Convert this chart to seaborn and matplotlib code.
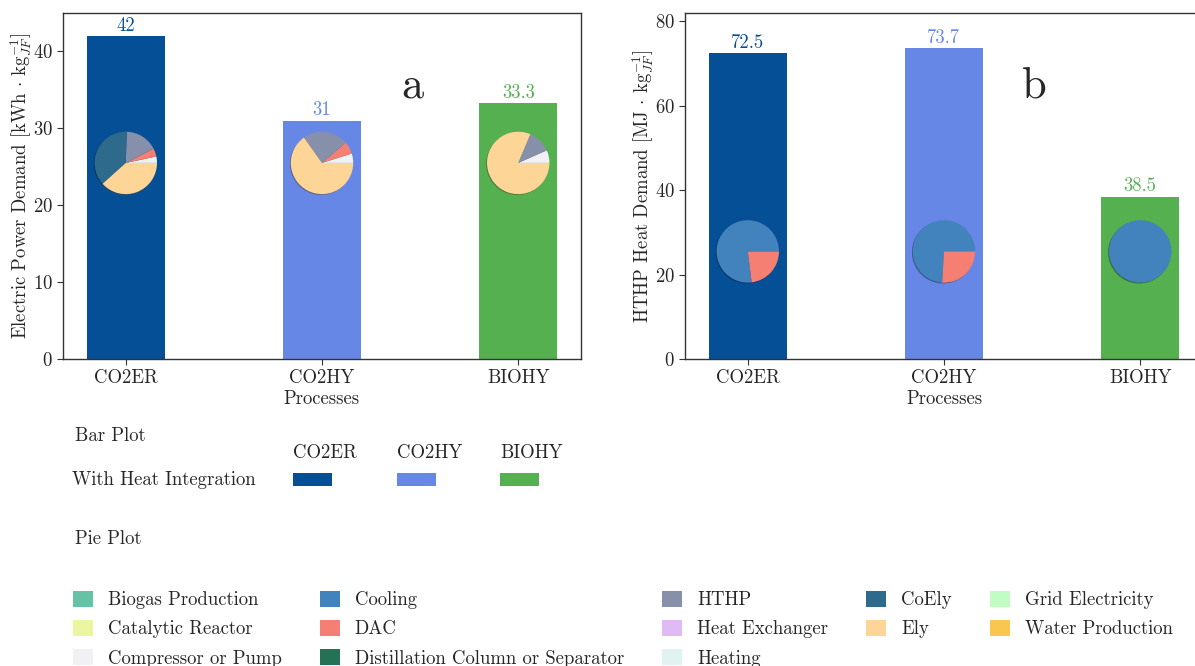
import numpy as np
import pandas as pd
import matplotlib
matplotlib.use("Agg")
import matplotlib.pyplot as plt
from matplotlib.patches import Patch, Rectangle
import seaborn as sns

# ---- data -------------------------------------------------------------
processes = ["CO2ER", "CO2HY", "BIOHY"]
bar_colors = ["#054f96", "#6787e6", "#55b050"]

power_total = [42, 31, 33.3]          # kWh per kg jet fuel
heat_total = [72.5, 73.7, 38.5]       # MJ per kg jet fuel

components = [
    "Biogas Production", "Catalytic Reactor", "Compressor or Pump",
    "Cooling", "DAC", "Distillation Column or Separator",
    "HTHP", "Heat Exchanger", "Heating",
    "CoEly", "Ely", "Grid Electricity", "Water Production",
]
component_colors = [
    "#66c2a5", "#ecf5a0", "#f0f0f5",
    "#4282bd", "#f47f72", "#237256",
    "#8790ab", "#e0baf2", "#e0f3f0",
    "#2d6a8c", "#fdd697", "#c0fcc4", "#f9c74f",
]

# electric power breakdown per process (kWh/kg)
power_parts = {
    "CO2ER": {"Compressor or Pump": 1.4, "DAC": 1.8, "HTHP": 7.1, "CoEly": 15.6, "Ely": 16.1},
    "CO2HY": {"Compressor or Pump": 1.5, "DAC": 2.0, "HTHP": 7.3, "Ely": 20.2},
    "BIOHY": {"Compressor or Pump": 2.2, "HTHP": 4.0, "Ely": 27.1},
}
# HTHP heat breakdown per process (MJ/kg)
heat_parts = {
    "CO2ER": {"Cooling": 55.8, "DAC": 16.7},
    "CO2HY": {"Cooling": 54.6, "DAC": 19.1},
    "BIOHY": {"Cooling": 38.5},
}

# ---- style ------------------------------------------------------------
sns.set_theme(style="ticks")
plt.rcParams["font.family"] = ["cmr10", "DejaVu Serif"]
plt.rcParams["mathtext.fontset"] = "cm"
plt.rcParams["axes.formatter.use_mathtext"] = True
plt.rcParams["axes.unicode_minus"] = False
plt.rcParams["axes.edgecolor"] = "#333333"
plt.rcParams["axes.linewidth"] = 1.0

FS = 13.5
W, H = 1195, 666
fig = plt.figure(figsize=(W / 100, H / 100), dpi=100)

ax_w = 518 / W
ax_h = 346 / H
ax_b = 1 - 359 / H
ax1 = fig.add_axes([63 / W, ax_b, ax_w, ax_h])
ax2 = fig.add_axes([685 / W, ax_b, ax_w, ax_h])

color_of = dict(zip(components, component_colors))


def draw_panel(ax, totals, parts, ylim, yticks, ylabel, letter):
    df = pd.DataFrame({"Process": processes, "Value": totals})
    sns.barplot(data=df, x="Process", y="Value", hue="Process",
                palette=bar_colors, width=0.4, saturation=1,
                legend=False, ax=ax, edgecolor="none", linewidth=0)
    ax.set_xlim(-0.32, 2.32)
    ax.set_ylim(*ylim)
    ax.set_yticks(yticks)
    ax.set_ylabel(ylabel, fontsize=FS, labelpad=-1)
    ax.set_xlabel("Processes", fontsize=FS, labelpad=2)
    ax.tick_params(labelsize=FS, length=4, width=0.8, color="#333333")
    for sp in ax.spines.values():
        sp.set_visible(True)
    # value labels in bar colour
    for i, (v, c) in enumerate(zip(totals, bar_colors)):
        ax.annotate(f"{v:g}", (i, v), xytext=(0, 1), textcoords="offset points",
                    ha="center", va="bottom", color=c, fontsize=FS)
    ax.text(0.674, 0.757, letter, transform=ax.transAxes, ha="center",
            va="baseline", fontsize=32)

    # pie insets centred on each bar
    fig.canvas.draw()
    to_axes = ax.transData + ax.transAxes.inverted()
    bbox = ax.get_window_extent()
    size_px = 78
    for i, p in enumerate(processes):
        cx, cy = to_axes.transform((i, 25.5))
        w = size_px / bbox.width
        h = size_px / bbox.height
        ins = ax.inset_axes([cx - w / 2, cy - h / 2, w, h])
        names = list(parts[p].keys())
        vals = list(parts[p].values())
        ins.pie(vals, colors=[color_of[n] for n in names], startangle=0,
                counterclock=True, shadow=True, radius=1,
                wedgeprops={"edgecolor": "none", "linewidth": 0})
        ins.set_xlim(-1.25, 1.25)
        ins.set_ylim(-1.25, 1.25)
        ins.set_aspect("equal")
        ins.axis("off")


draw_panel(ax1, power_total, power_parts, (0, 45), [0, 10, 20, 30, 40],
           r"Electric Power Demand [kWh $\cdot$ kg$_{JF}^{-1}$]", "a")
draw_panel(ax2, heat_total, heat_parts, (0, 82), [0, 20, 40, 60, 80],
           r"HTHP Heat Demand [MJ $\cdot$ kg$_{JF}^{-1}$]", "b")

# ---- bar legend block --------------------------------------------------
fig.text(75 / W, 1 - 436 / H, "Bar Plot", fontsize=FS, va="center", ha="left")
fig.text(72 / W, 1 - 480 / H, "With Heat Integration", fontsize=FS,
         va="center", ha="left")
rect_x = [293, 397, 500]
for name, c, x in zip(processes, bar_colors, rect_x):
    fig.text(x / W, 1 - 453 / H, name, fontsize=FS,
             va="center", ha="left")
    fig.patches.append(Rectangle((x / W, 1 - 486 / H), 39 / W, 13 / H,
                                 transform=fig.transFigure, facecolor=c,
                                 edgecolor="none"))

# ---- pie legend block --------------------------------------------------
fig.text(75 / W, 1 - 539 / H, "Pie Plot", fontsize=FS, va="center", ha="left")
handles = [Patch(facecolor=c, edgecolor="none") for c in component_colors]
fig.legend(handles, components, loc="upper left",
           bbox_to_anchor=(73 / W, 1 - 591 / H), ncol=5, frameon=False,
           fontsize=FS, handlelength=1.07, handleheight=0.9,
           handletextpad=0.8, columnspacing=2.02, labelspacing=0.58,
           borderaxespad=0, borderpad=0)

fig.savefig("out.png", dpi=100)
